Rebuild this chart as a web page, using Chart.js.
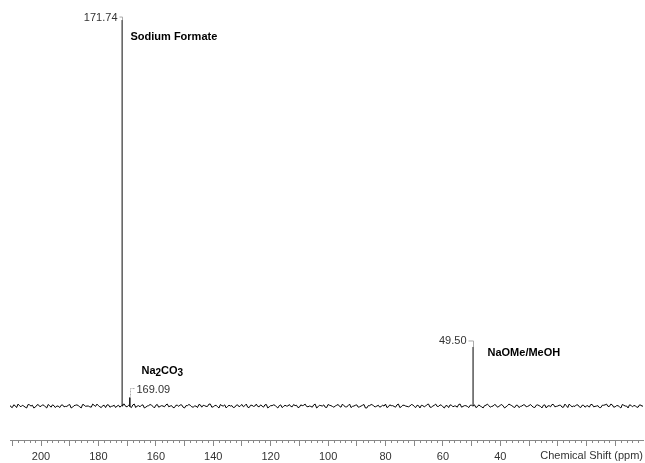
<!DOCTYPE html>
<html lang="en">
<head>
  <meta charset="UTF-8" />
  <title>13C NMR Spectrum</title>
  <script src="https://cdn.jsdelivr.net/npm/chart.js"></script>
  <style>
    body { margin: 0; background: #fff; }
    canvas { display: block; }
  </style>
</head>
<body>
  <canvas id="nmrChart" width="645" height="463"></canvas>
  <script>
    // peaks (ppm) and relative heights
    const peakShifts = [171.74, 169.09, 49.50];
    const peakHeights = [100, 2.2, 15.3];
    const peakLabels = ["171.74", "169.09", "49.50"];
    const compoundNames = ["Sodium Formate", "Na2CO3", "NaOMe/MeOH"];
    const tickLabels = [200, 180, 160, 140, 120, 100, 80, 60, 40];
    const axisTitle = "Chemical Shift (ppm)";

    // baseline noise, whole ppm from 211 down
    const noiseA = [
      0.3,-0.4,0.1,0.5,-0.2,0.0,-0.5,0.3,0.2,-0.3,0.4,-0.1,0.2,-0.5,0.1,0.3,-0.4,0.0,0.2,-0.2,
      -0.1,0.4,-0.3,0.2,0.1,-0.5,0.3,0.0,-0.2,0.5,-0.1,0.1,-0.4,0.2,0.3,-0.3,0.0,-0.4,0.2,0.1,
      0.5,-0.2,-0.1,0.3,-0.4,0.1,0.2,-0.5,0.0,0.4,-0.1,0.2,-0.3,0.1,-0.2,0.5,0.0,-0.4,0.2,-0.1,
      0.3,-0.5,0.1,0.2,-0.3,0.0,0.4,-0.3,0.1,-0.1,0.5,-0.2,0.2,-0.5,0.1,0.3,-0.1,0.0,-0.4,0.2,
      -0.2,0.4,0.1,-0.3,0.2,-0.1,0.5,-0.2,0.0,0.3,-0.5,0.1,0.3,-0.2,0.1,-0.4,0.2,0.0,-0.1,0.4,
      0.2,-0.3,0.1,0.5,-0.2,-0.1,0.3,-0.5,0.2,0.0,-0.3,0.4,0.1,-0.3,0.2,-0.1,0.5,-0.2,0.1,-0.4,
      0.0,0.3,-0.2,0.2,-0.5,0.1,0.4,-0.1,0.0,-0.3,0.2,0.5,-0.2,0.1,-0.1,0.3,-0.4,0.2,0.0,-0.2,
      0.4,-0.1,0.2,-0.5,0.1,0.0,0.5,-0.3,0.2,-0.1,0.3,-0.2,0.1,-0.4,0.2,0.0,-0.3,0.5,-0.1,0.1,
      -0.4,0.2,0.3,-0.2,0.0,-0.5,0.2,0.1,-0.1,0.4,-0.3,0.2,0.0,-0.2,0.5,0.1,-0.4,0.2,-0.1,0.3,
      -0.2,0.1,0.0,-0.4,0.3,-0.1,0.2,-0.5,0.1,0.4,-0.2,0.0,0.2,-0.3,0.1,0.5,-0.2,-0.1,0.3,-0.4,
      0.2,0.0,-0.3,0.4,-0.1,0.1,-0.4,0.2,0.5,-0.1,0.3,-0.2,0.1,-0.5,0.2,0.0,0.3,-0.2,0.1,-0.3,
      0.2,0.4
    ];
    // half-ppm points, from 210.5 down
    const noiseB = [
      -0.2,0.3,-0.4,0.1,0.2,-0.3,0.4,0.0,-0.5,0.2,-0.1,0.3,-0.2,0.4,-0.3,0.1,0.0,-0.4,0.3,-0.1,
      0.2,-0.5,0.1,0.3,-0.2,0.4,-0.1,0.0,-0.3,0.2,0.5,-0.2,0.1,-0.4,0.3,-0.1,0.2,0.0,-0.3,0.4,
      -0.1,0.2,-0.4,0.5,0.0,-0.2,0.3,-0.3,0.1,0.2,-0.5,0.4,-0.1,0.0,0.3,-0.2,0.1,-0.4,0.2,0.3,
      -0.3,0.1,0.4,-0.2,0.0,-0.4,0.3,0.2,-0.1,0.5,-0.3,0.1,-0.2,0.4,0.0,-0.5,0.2,0.1,-0.3,0.3,
      0.1,-0.2,0.5,-0.4,0.2,0.0,-0.1,0.3,-0.3,0.4,-0.2,0.1,0.2,-0.5,0.3,-0.1,0.0,0.4,-0.2,0.1,
      -0.4,0.3,0.2,-0.1,0.0,-0.3,0.5,-0.2,0.1,0.3,-0.4,0.2,-0.1,0.0,0.4,-0.3,0.1,-0.2,0.5,-0.1,
      0.2,-0.3,0.0,0.4,-0.5,0.1,0.3,-0.2,0.2,-0.1,0.0,-0.4,0.3,0.1,-0.3,0.5,-0.2,0.2,-0.1,0.0,
      0.3,-0.4,0.1,0.2,-0.2,0.4,-0.3,0.0,0.5,-0.1,0.2,-0.5,0.1,0.3,-0.2,0.0,0.4,-0.3,0.1,-0.1,
      0.2,0.0,-0.4,0.3,-0.2,0.1,0.5,-0.3,0.0,0.2,-0.1,0.4,-0.5,0.1,0.3,-0.2,0.2,-0.4,0.0,0.3,
      -0.1,0.4,-0.3,0.2,0.1,-0.5,0.3,0.0,-0.2,0.4,-0.1,0.2,-0.3,0.5,-0.4,0.1,0.0,0.3,-0.2,0.2,
      -0.3,0.1,0.4,-0.2,0.0,-0.4,0.2,0.3,-0.1,0.5,-0.3,0.1,-0.2,0.4,0.0,-0.5,0.2,0.1,-0.3,0.3,
      -0.1
    ];

    // build spectrum points: noise grid + sharp peaks
    let points = noiseA.map((v, i) => ({ x: 211 - i, y: v }))
      .concat(noiseB.map((v, i) => ({ x: 210.5 - i, y: v })));
    peakShifts.forEach((p, i) => {
      points.push({ x: p + 0.02, y: 0 });
      points.push({ x: p, y: peakHeights[i] });
      points.push({ x: p - 0.02, y: 0 });
    });
    points.sort((a, b) => b.x - a.x);

    const FONT = "'Liberation Sans', Arial, sans-serif";

    const nmrDecor = {
      id: 'nmrDecor',
      afterDraw(chart) {
        const ctx = chart.ctx;
        const xs = chart.scales.x, ys = chart.scales.y;
        const axisY = chart.chartArea.bottom;
        ctx.save();

        // minor ticks every 2 ppm
        ctx.strokeStyle = '#888';
        ctx.lineWidth = 1;
        ctx.beginPath();
        for (let v = 210; v >= -8; v -= 2) {
          if (v % 10 === 0) continue;
          const px = Math.round(xs.getPixelForValue(v)) + 0.5;
          ctx.moveTo(px, axisY);
          ctx.lineTo(px, axisY + 3);
        }
        ctx.stroke();

        // axis title
        ctx.fillStyle = '#333';
        ctx.font = '11px ' + FONT;
        ctx.textAlign = 'right';
        ctx.textBaseline = 'middle';
        ctx.fillText(axisTitle, 643, axisY + 16);

        // peak labels with bracket connectors
        const px = peakShifts.map(p => xs.getPixelForValue(p));
        const py = peakHeights.map(h => ys.getPixelForValue(h));

        ctx.strokeStyle = '#aaa';
        ctx.lineWidth = 1;

        // Sodium formate
        let lx = Math.round(px[0]) + 0.5;
        ctx.beginPath();
        ctx.moveTo(lx - 3, py[0] - 3);
        ctx.lineTo(lx, py[0] - 3);
        ctx.lineTo(lx, py[0]);
        ctx.stroke();
        ctx.fillStyle = '#333';
        ctx.font = '11px ' + FONT;
        ctx.textAlign = 'right';
        ctx.fillText(peakLabels[0], lx - 5, py[0] - 2);
        ctx.fillStyle = '#000';
        ctx.font = 'bold 11px ' + FONT;
        ctx.textAlign = 'left';
        ctx.fillText(compoundNames[0], lx + 8, py[0] + 17);

        // Na2CO3
        lx = Math.round(px[1]) + 0.5;
        ctx.setLineDash([2, 1]);
        ctx.beginPath();
        ctx.moveTo(lx + 4, py[1] - 9);
        ctx.lineTo(lx, py[1] - 9);
        ctx.lineTo(lx, py[1]);
        ctx.stroke();
        ctx.setLineDash([]);
        ctx.fillStyle = '#333';
        ctx.font = '11px ' + FONT;
        ctx.textAlign = 'left';
        ctx.fillText(peakLabels[1], lx + 6, py[1] - 8);
        // name with subscripts
        ctx.fillStyle = '#000';
        let tx = lx + 11, ty = py[1] - 27;
        const parts = compoundNames[1].match(/[A-Za-z]+|\d+/g);
        parts.forEach(part => {
          const sub = /\d/.test(part);
          ctx.font = 'bold ' + (sub ? 10 : 11) + 'px ' + FONT;
          ctx.fillText(part, tx, sub ? ty + 3 : ty);
          tx += ctx.measureText(part).width;
        });

        // NaOMe / MeOH
        lx = Math.round(px[2]) + 0.5;
        ctx.strokeStyle = '#aaa';
        ctx.beginPath();
        ctx.moveTo(lx - 5, py[2] - 6);
        ctx.lineTo(lx, py[2] - 6);
        ctx.lineTo(lx, py[2]);
        ctx.stroke();
        ctx.fillStyle = '#333';
        ctx.font = '11px ' + FONT;
        ctx.textAlign = 'right';
        ctx.fillText(peakLabels[2], lx - 7, py[2] - 6);
        ctx.fillStyle = '#000';
        ctx.font = 'bold 11px ' + FONT;
        ctx.textAlign = 'left';
        ctx.fillText(compoundNames[2], lx + 14, py[2] + 6);

        ctx.restore();
      }
    };

    new Chart(document.getElementById('nmrChart'), {
      type: 'line',
      data: {
        datasets: [{
          data: points,
          borderColor: '#000',
          borderWidth: 1,
          pointRadius: 0,
          tension: 0,
          // tall peak strokes look lighter in the original
          segment: {
            borderColor: c => Math.abs(c.p0.parsed.y - c.p1.parsed.y) > 5 ? '#555' : '#000'
          }
        }]
      },
      options: {
        responsive: false,
        animation: false,
        layout: { padding: { left: 10, right: 2, top: 10, bottom: -4 } },
        plugins: { legend: { display: false }, tooltip: { enabled: false } },
        scales: {
          x: {
            type: 'linear',
            reverse: true,
            min: -9.7,
            max: 210.8,
            border: { color: '#888' },
            grid: { drawOnChartArea: false, tickLength: 6, color: '#888' },
            ticks: {
              stepSize: 10,
              includeBounds: false,
              autoSkip: false,
              maxRotation: 0,
              padding: 5,
              color: '#333',
              font: { size: 11, family: FONT, lineHeight: 1 },
              callback: v => tickLabels.includes(v) ? String(v) : ''
            }
          },
          y: { display: false, min: -8.8, max: 102.6 }
        }
      },
      plugins: [nmrDecor]
    });
  </script>
</body>
</html>
